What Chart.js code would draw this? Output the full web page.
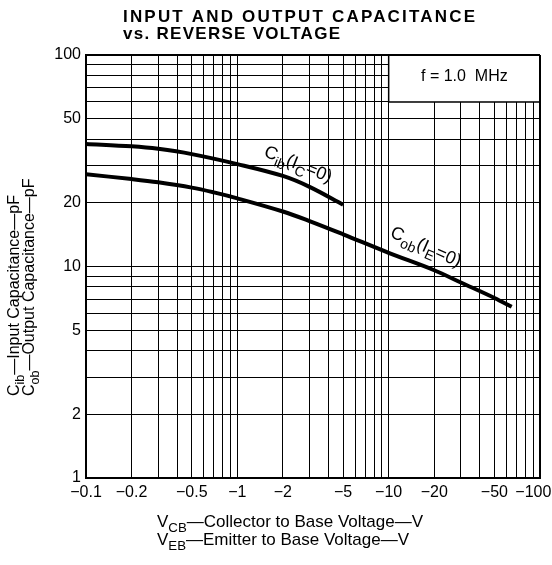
<!DOCTYPE html>
<html>
<head>
<meta charset="utf-8">
<script src="https://cdn.jsdelivr.net/npm/chart.js@4.4.0/dist/chart.umd.min.js"></script>
<style>
html, body { margin: 0; padding: 0; background: #fff; }
#wrap { width: 552px; height: 565px; position: relative; }
</style>
</head>
<body>
<div id="wrap"><canvas id="chart" width="552" height="565"></canvas></div>
<script>
// Kurve: Cib (IC = 0)
const cibVoltage = [0.1, 0.2, 0.3, 0.5, 1, 2, 3, 5];
const cibCap = [38, 37, 36, 34, 30.5, 26.8, 23.8, 19.6];

// Kurve: Cob (IE = 0)
const cobVoltage = [0.1, 0.2, 0.3, 0.5, 0.7, 1, 2, 3, 5, 10, 20, 30, 50, 65];
const cobCap = [27.3, 25.9, 25.0, 23.6, 22.4, 21.0, 18.2, 16.4, 14.2, 11.6, 9.6, 8.4, 7.1, 6.45];

// Gitterlinien und beschriftete Ticks
const xGrid = [0.1, 0.2, 0.3, 0.4, 0.5, 0.6, 0.7, 0.8, 0.9, 1, 2, 3, 4, 5, 6, 7, 8, 9, 10, 20, 30, 40, 50, 60, 70, 80, 90, 100];
const yGrid = [1, 2, 3, 4, 5, 6, 7, 8, 9, 10, 20, 30, 40, 50, 60, 70, 80, 90, 100];
const xLabeled = [0.1, 0.2, 0.5, 1, 2, 5, 10, 20, 50, 100];
const yLabeled = [1, 2, 5, 10, 20, 50, 100];

// Kasten "f = 1.0 MHz" (Datenbereich)
const boxX = [10, 100];
const boxY = [60, 100];

const FONT = '"Liberation Sans", Arial, sans-serif';

function toPoints(xs, ys) {
    return xs.map((x, i) => ({ x: x, y: ys[i] }));
}

// Text mit Tiefstellungen zeichnen: parts = [[text, sub], ...]
function richWidth(ctx, parts, size) {
    let w = 0;
    parts.forEach(([t, sub]) => {
        ctx.font = (sub ? size * 0.78 : size) + 'px ' + FONT;
        w += ctx.measureText(t).width;
    });
    return w;
}
function drawRich(ctx, parts, x, y, size) {
    let cx = x;
    parts.forEach(([t, sub]) => {
        ctx.font = (sub ? size * 0.78 : size) + 'px ' + FONT;
        ctx.fillText(t, cx, y + (sub ? size * 0.3 : 0));
        cx += ctx.measureText(t).width;
    });
}

// Text mit Sperrung auf eine feste Breite bringen
function fillSpaced(ctx, text, x, y, width) {
    ctx.letterSpacing = '0px';
    const w = ctx.measureText(text).width;
    ctx.letterSpacing = ((width - w) / (text.length - 1)) + 'px';
    ctx.fillText(text, x, y);
    ctx.letterSpacing = '0px';
}

const textPlugin = {
    id: 'texts',
    beforeDatasetsDraw(chart) {
        const { ctx, scales: { x, y } } = chart;
        const l = x.getPixelForValue(boxX[0]);
        const r = x.getPixelForValue(boxX[1]);
        const t = y.getPixelForValue(boxY[1]);
        const b = y.getPixelForValue(boxY[0]);
        ctx.save();
        ctx.fillStyle = '#fff';
        ctx.fillRect(l, t + 1, r - l - 1, b - t - 1);
        ctx.strokeStyle = '#000';
        ctx.lineWidth = 1.5;
        ctx.beginPath();
        ctx.moveTo(l, t);
        ctx.lineTo(l, b);
        ctx.lineTo(r, b);
        ctx.stroke();
        ctx.fillStyle = '#000';
        ctx.font = '16px ' + FONT;
        ctx.textAlign = 'center';
        ctx.textBaseline = 'alphabetic';
        ctx.fillText('f = 1.0  MHz', (l + r) / 2, t + 26);
        ctx.restore();
    },
    afterDraw(chart) {
        const { ctx, scales: { x, y } } = chart;
        ctx.save();
        ctx.fillStyle = '#000';
        ctx.textAlign = 'left';
        ctx.textBaseline = 'alphabetic';

        // Titel
        ctx.font = 'bold 17px ' + FONT;
        fillSpaced(ctx, 'INPUT AND OUTPUT CAPACITANCE', 123, 22, 352);
        fillSpaced(ctx, 'vs. REVERSE VOLTAGE', 123, 39, 217);

        // Kurvenbeschriftungen
        const cibLabel = [['C', false], ['ib', true], ['(I', false], ['C', true], ['=0)', false]];
        const cobLabel = [['C', false], ['ob', true], ['(I', false], ['E', true], ['=0)', false]];
        [[cibLabel, 2.5, 30, 22], [cobLabel, 17.5, 12.2, 24]].forEach(([parts, vx, vy, ang]) => {
            const px = x.getPixelForValue(vx);
            const py = y.getPixelForValue(vy);
            const w = richWidth(ctx, parts, 18);
            ctx.save();
            ctx.translate(px, py);
            ctx.rotate(ang * Math.PI / 180);
            drawRich(ctx, parts, -w / 2, 4, 18);
            ctx.restore();
        });

        // y-Achsentitel (gedreht)
        const yl1 = [['C', false], ['ib', true], ['\u2014Input Capacitance\u2014pF', false]];
        const yl2 = [['C', false], ['ob', true], ['\u2014Output Capacitance\u2014pF', false]];
        ctx.save();
        ctx.translate(0, 396);
        ctx.rotate(-Math.PI / 2);
        drawRich(ctx, yl1, 0, 19, 16);
        drawRich(ctx, yl2, 0, 34, 16);
        ctx.restore();

        // x-Achsentitel
        drawRich(ctx, [['V', false], ['CB', true], ['\u2014Collector to Base Voltage\u2014V', false]], 157, 527, 17);
        drawRich(ctx, [['V', false], ['EB', true], ['\u2014Emitter to Base Voltage\u2014V', false]], 157, 545, 17);
        ctx.restore();
    }
};

const gridWidth = (ctx) => (ctx.tick && ctx.tick.value === 100 ? 2 : 1);

new Chart(document.getElementById('chart'), {
    type: 'line',
    data: {
        datasets: [
            {
                label: 'Cib',
                data: toPoints(cibVoltage, cibCap),
                borderColor: '#000',
                borderWidth: 4,
                pointRadius: 0,
                fill: false,
                tension: 0.35
            },
            {
                label: 'Cob',
                data: toPoints(cobVoltage, cobCap),
                borderColor: '#000',
                borderWidth: 4,
                pointRadius: 0,
                fill: false,
                tension: 0.35
            }
        ]
    },
    options: {
        responsive: false,
        animation: false,
        devicePixelRatio: 1,
        layout: { padding: { top: 55, right: 12, left: 0, bottom: 0 } },
        plugins: {
            legend: { display: false },
            tooltip: { enabled: false },
            title: { display: false }
        },
        scales: {
            x: {
                type: 'logarithmic',
                min: 0.1,
                max: 100,
                afterBuildTicks: (s) => { s.ticks = xGrid.map(v => ({ value: v })); },
                afterFit: (s) => { s.height = 87; s.paddingLeft = 0; s.paddingRight = 0; },
                ticks: {
                    autoSkip: false,
                    maxRotation: 0,
                    minRotation: 0,
                    padding: 5,
                    color: '#000',
                    font: { family: FONT, size: 16 },
                    callback: (v) => {
                        if (!xLabeled.includes(v)) return '';
                        return v === 100 ? '\u2212100   ' : '\u2212' + v;
                    }
                },
                grid: { color: '#000', lineWidth: gridWidth, drawTicks: false },
                border: { display: true, color: '#000', width: 2 }
            },
            y: {
                type: 'logarithmic',
                min: 1,
                max: 100,
                afterBuildTicks: (s) => { s.ticks = yGrid.map(v => ({ value: v })); },
                afterFit: (s) => { s.width = 86; s.paddingTop = 0; s.paddingBottom = 0; },
                ticks: {
                    autoSkip: false,
                    padding: 5,
                    color: '#000',
                    font: { family: FONT, size: 16 },
                    callback: (v) => (yLabeled.includes(v) ? String(v) : '')
                },
                grid: { color: '#000', lineWidth: gridWidth, drawTicks: false },
                border: { display: true, color: '#000', width: 2 }
            }
        }
    },
    plugins: [textPlugin]
});
</script>
</body>
</html>
